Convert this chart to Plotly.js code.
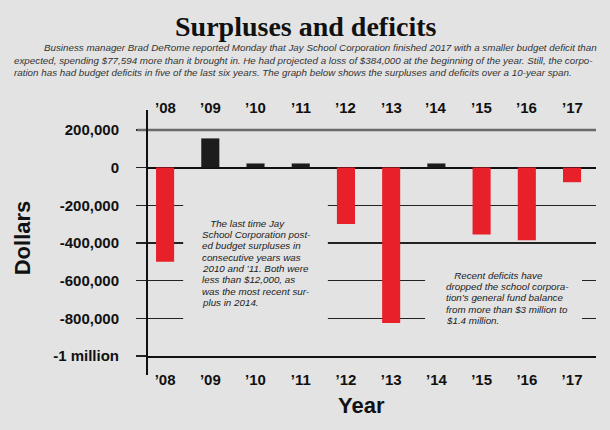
<!DOCTYPE html>
<html lang="en">
<head>
  <meta charset="UTF-8" />
  <title>Surpluses and deficits</title>
  <script src="https://cdn.plot.ly/plotly-3.0.1.min.js"></script>
  <style>
    body { margin: 0; background: #e3e3e3; }
    #chart { width: 610px; height: 430px; }
  </style>
</head>
<body>
  <div id="chart"></div>
  <script>
    // data read from the graphic
    const years = ["\u201908", "\u201909", "\u201910", "\u201911", "\u201912", "\u201913", "\u201914", "\u201915", "\u201916", "\u201917"];
    const balance = [-500000, 155000, 22000, 22000, -300000, -825000, 22000, -355000, -385000, -77594];
    const yTickVals = [200000, 0, -200000, -400000, -600000, -800000, -1000000];
    const yTickText = ["200,000", "0", "-200,000", "-400,000", "-600,000", "-800,000", "-1 million"];

    const idx = years.map((_, i) => i);
    const bg = '#e3e3e3';

    const intro = [
      "\u00a0\u00a0\u00a0\u00a0\u00a0\u00a0\u00a0\u00a0\u00a0\u00a0\u00a0Business manager Brad DeRome reported Monday that Jay School Corporation finished 2017 with a smaller budget deficit than",
      "expected, spending $77,594 more than it brought in. He had projected a loss of $384,000 at the beginning of the year. Still, the corpo-",
      "ration has had budget deficits in five of the last six years. The graph below shows the surpluses and deficits over a 10-year span."
    ];
    const note1 = [
      "\u00a0\u00a0\u00a0The last time Jay",
      "School Corporation post-",
      "ed budget surpluses in",
      "consecutive years was",
      "2010 and \u201911. Both were",
      "less than $12,000, as",
      "was the most recent sur-",
      "plus in 2014."
    ];
    const note2 = [
      "\u00a0\u00a0\u00a0Recent deficits have",
      "dropped the school corpora-",
      "tion\u2019s general fund balance",
      "from more than $3 million to",
      "$1.4 million."
    ];

    const trace = {
      type: 'bar',
      x: idx,
      y: balance,
      width: 0.4,
      marker: { color: balance.map(v => v < 0 ? '#e8202a' : '#1c1c1c') },
      hoverinfo: 'skip'
    };

    const sans = 'Liberation Sans, Arial, sans-serif';
    const tickFont = { family: sans, size: 15, color: '#111', weight: 'bold' };
    const noteFont = { family: sans, size: 9.8, color: '#222', style: 'italic' };

    // page pixel -> paper coordinate helpers (plot area 147..596 x 120..356)
    const plotL = 147, plotW = 449, plotTop = 120, plotH = 236;
    const pageX = px => (px - plotL) / plotW;
    const pageY = py => (plotTop + plotH - py) / plotH;

    const annotations = [
      {
        text: 'Surpluses and deficits', xref: 'paper', yref: 'paper', x: pageX(305), y: pageY(27),
        xanchor: 'center', yanchor: 'middle', showarrow: false,
        font: { family: 'Liberation Serif, Times New Roman, serif', size: 28, color: '#111', weight: 'bold' }
      },
      {
        text: 'Year', xref: 'paper', yref: 'paper', x: pageX(361), y: pageY(405),
        xanchor: 'center', yanchor: 'middle', showarrow: false,
        font: { family: sans, size: 22, color: '#111', weight: 'bold' }
      }
    ];
    intro.forEach((line, i) => annotations.push({
      text: line, xref: 'paper', yref: 'paper', x: pageX(12), y: pageY(48 + i * 12.3),
      xanchor: 'left', yanchor: 'middle', showarrow: false,
      font: { family: sans, size: 9.8, color: '#333', style: 'italic' }
    }));
    // year labels repeated along the top
    years.forEach((yr, i) => annotations.push({
      text: yr, xref: 'x', yref: 'paper', x: i, y: pageY(108),
      xanchor: 'center', yanchor: 'middle', showarrow: false, font: tickFont
    }));
    note1.forEach((line, i) => annotations.push({
      text: line, xref: 'x', yref: 'y', x: 0.77, y: -296000, yshift: -i * 11.3,
      xanchor: 'left', yanchor: 'middle', showarrow: false, font: noteFont
    }));
    note2.forEach((line, i) => annotations.push({
      text: line, xref: 'x', yref: 'y', x: 6.17, y: -572000, yshift: -i * 11.25,
      xanchor: 'left', yanchor: 'middle', showarrow: false, font: noteFont
    }));

    const layout = {
      width: 610,
      height: 430,
      margin: { l: plotL, r: 610 - plotL - plotW, t: plotTop, b: 430 - plotTop - plotH },
      paper_bgcolor: bg,
      plot_bgcolor: bg,
      showlegend: false,
      xaxis: {
        range: [-0.4, 9.53],
        tickvals: idx,
        ticktext: years,
        tickfont: tickFont,
        ticklabelstandoff: 9,
        showgrid: false,
        zeroline: false,
        // bottom axis line doubles as the -1 million rule
        showline: true,
        linecolor: '#111',
        linewidth: 2,
        ticks: '',
        fixedrange: true
      },
      yaxis: {
        range: [-1000000, 252700],
        tickvals: yTickVals,
        ticktext: yTickText,
        tickfont: tickFont,
        ticks: 'outside',
        ticklen: 10,
        tickwidth: 1.5,
        tickcolor: '#222',
        ticklabelstandoff: 14,
        showgrid: true,
        gridcolor: '#222',
        gridwidth: 1.5,
        zeroline: true,
        zerolinecolor: '#111',
        zerolinewidth: 2,
        showline: false,
        fixedrange: true,
        title: { text: 'Dollars', font: { family: sans, size: 22, color: '#111', weight: 'bold' }, standoff: 16 }
      },
      shapes: [
        // blank areas behind the notes
        { type: 'rect', xref: 'x', yref: 'y', x0: 0.4, x1: 3.6, y0: -870000, y1: -170000, fillcolor: bg, line: { width: 0 }, layer: 'above' },
        { type: 'rect', xref: 'x', yref: 'y', x0: 5.75, x1: 9.22, y0: -900000, y1: -500000, fillcolor: bg, line: { width: 0 }, layer: 'above' },
        // top gridline is lighter
        { type: 'line', xref: 'paper', yref: 'y', x0: -0.022, x1: 1, y0: yTickVals[0], y1: yTickVals[0], line: { color: '#6a6a6a', width: 2.5 }, layer: 'above' },
        // left axis line running past the plot
        { type: 'line', xref: 'paper', yref: 'paper', x0: 0, x1: 0, y0: pageY(375), y1: pageY(110), line: { color: '#111', width: 2 }, layer: 'above' }
      ],
      annotations: annotations
    };

    Plotly.newPlot('chart', [trace], layout, { displayModeBar: false, staticPlot: true });
  </script>
</body>
</html>
